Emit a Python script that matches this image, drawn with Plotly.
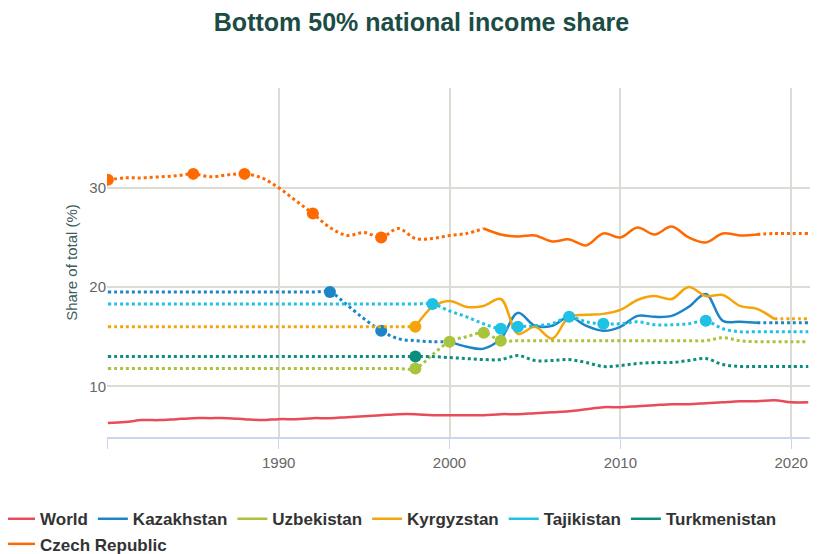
import plotly.graph_objects as go

# ==== DATA ====
years = list(range(1980, 2022))

world = [6.3, 6.4, 6.6, 6.6, 6.7, 6.8, 6.8, 6.8, 6.7, 6.6,
         6.7, 6.7, 6.8, 6.8, 6.9, 7.0, 7.1, 7.2, 7.2, 7.1,
         7.1, 7.1, 7.1, 7.2, 7.2, 7.3, 7.4, 7.5, 7.7, 7.9,
         7.9, 8.0, 8.1, 8.2, 8.2, 8.3, 8.4, 8.5, 8.5, 8.6,
         8.4, 8.4]
kazakhstan = [19.5] * 14 + [18.2, 16.8, 15.6, 14.8, 14.6, 14.5,
              14.5, 14.0, 13.8, 14.8, 17.4, 16.1, 16.1, 17.0, 16.1, 15.6,
              16.0, 17.1, 17.0, 17.1, 18.0, 19.3, 16.6, 16.5, 16.4, 16.4,
              16.4, 16.4]
uzbekistan = [11.8] * 19 + [13.2,
              14.5, 15.0, 15.4, 14.6, 14.6, 14.6, 14.6, 14.6, 14.6, 14.6,
              14.6, 14.6, 14.6, 14.6, 14.6, 14.6, 14.9, 14.6, 14.5, 14.5,
              14.5, 14.5]
kyrgyzstan = [16.0] * 19 + [18.0,
              18.6, 18.0, 18.1, 18.8, 15.3, 16.0, 14.8, 17.0, 17.2, 17.3,
              17.7, 18.7, 19.1, 18.8, 20.0, 19.1, 19.2, 18.1, 17.8, 16.8,
              16.8, 16.8]
tajikistan = [18.3] * 20 + [
              17.6, 17.0, 16.3, 15.8, 16.0, 16.1, 16.3, 17.0, 16.5, 16.3,
              16.3, 16.5, 16.2, 16.2, 16.3, 16.6, 15.8, 15.5, 15.5, 15.5,
              15.5, 15.5]
turkmenistan = [13.0] * 20 + [
                12.9, 12.8, 12.7, 12.7, 13.1, 12.6, 12.6, 12.7, 12.4, 12.0,
                12.1, 12.3, 12.4, 12.4, 12.6, 12.8, 12.2, 12.0, 12.0, 12.0,
                12.0, 12.0]
czech = [30.8, 31.0, 31.0, 31.1, 31.2, 31.4, 31.1, 31.3, 31.4, 31.0,
         30.0, 28.7, 27.4, 26.0, 25.2, 25.5, 25.0, 25.9, 24.9, 24.9,
         25.2, 25.4, 25.9, 25.3, 25.1, 25.2, 24.6, 24.8, 24.2, 25.4,
         25.0, 26.0, 25.3, 26.1, 25.0, 24.5, 25.4, 25.2, 25.3, 25.4,
         25.4, 25.4]

# (name, values, colour, solid span, marker years)
series = [
    ("World", world, "#e84b5a", (1980, 2021), []),
    ("Kazakhstan", kazakhstan, "#1b85c8", (2000, 2018), [1993, 1996]),
    ("Uzbekistan", uzbekistan, "#a8c43c", None, [1998, 2000, 2002, 2003]),
    ("Kyrgyzstan", kyrgyzstan, "#f5a50a", (1998, 2019), [1998]),
    ("Tajikistan", tajikistan, "#1fc1e4", None, [1999, 2003, 2004, 2007, 2009, 2015]),
    ("Turkmenistan", turkmenistan, "#0b8f7c", None, [1998]),
    ("Czech Republic", czech, "#ff6a00", (2002, 2018), [1980, 1985, 1988, 1992, 1996]),
]

fig = go.Figure()

for name, vals, color, span, mk_years in series:
    if span is None:
        dotted = list(vals)
        solid = [None] * len(vals)
    else:
        s0, s1 = span
        dotted = [v if (y <= s0 or y >= s1) else None for y, v in zip(years, vals)]
        solid = [v if s0 <= y <= s1 else None for y, v in zip(years, vals)]

    # estimated stretches are dotted
    if span != (1980, 2021):
        fig.add_trace(go.Scatter(
            x=years, y=dotted, mode="lines", name=name, legendgroup=name,
            showlegend=False, connectgaps=False,
            line=dict(color=color, width=3, dash="3px,3px", shape="spline"),
            hoverinfo="skip"
        ))
    fig.add_trace(go.Scatter(
        x=years, y=solid, mode="lines", name=name, legendgroup=name,
        connectgaps=False,
        line=dict(color=color, width=2.5, shape="spline")
    ))
    if mk_years:
        fig.add_trace(go.Scatter(
            x=mk_years, y=[vals[years.index(y)] for y in mk_years],
            mode="markers", name=name, legendgroup=name, showlegend=False,
            marker=dict(color=color, size=12)
        ))

# page body has an 8px margin, so the figure is 8px smaller each way
fig.update_layout(
    width=827, height=546,
    margin=dict(l=99, r=25, t=80, b=117, autoexpand=False),
    paper_bgcolor="white", plot_bgcolor="white",
    font=dict(family="Liberation Sans, Arial, sans-serif"),
    title=dict(text="<b>Bottom 50% national income share</b>",
               x=0.5, xanchor="center", y=0.974, yanchor="middle",
               font=dict(size=25, color="#1b4d44")),
    xaxis=dict(
        range=[1979.95, 2021.1],
        tickvals=[1980, 1990, 2000, 2010, 2020],
        ticktext=["", "1990", "2000", "2010", "2020"],
        showgrid=True, gridcolor="#dcdcd4", gridwidth=1.5,
        showline=True, linecolor="#ccd6eb", linewidth=1.5,
        ticks="outside", ticklen=10, tickcolor="#ccd6eb",
        ticklabelstandoff=1,
        tickfont=dict(size=15, color="#666666"),
        zeroline=False
    ),
    yaxis=dict(
        range=[4.9, 40.05],
        tickvals=[10, 20, 30, 40],
        ticktext=["10", "20", "30", ""],
        showgrid=True, gridcolor="#dcdcd4", gridwidth=1.5,
        tickfont=dict(size=15, color="#666666"),
        title=dict(text="Share of total (%)", font=dict(size=15, color="#3d5c5c"),
                   standoff=8),
        zeroline=False
    ),
    legend=dict(orientation="h", x=-0.1522, xanchor="left", y=-0.184, yanchor="top",
                font=dict(size=17, color="#333333", weight="bold"),
                itemwidth=30, tracegroupgap=0),
    showlegend=True
)

fig.write_html("out.html")
